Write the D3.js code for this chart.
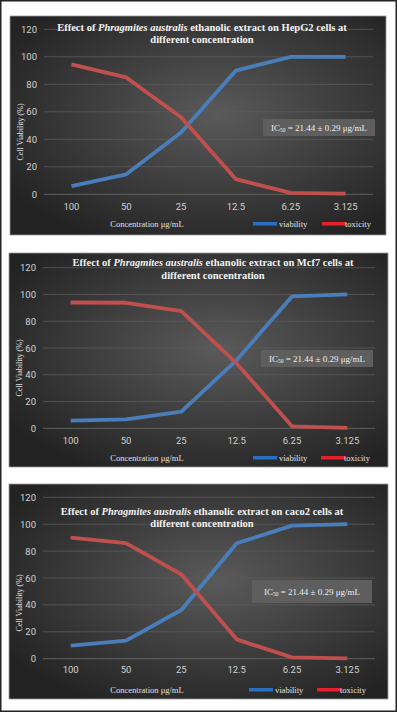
<!DOCTYPE html>
<html>
<head>
<meta charset="utf-8">
<script src="https://cdn.jsdelivr.net/npm/d3@7"></script>
<style>
  body { margin: 0; background: #fff; }
  svg { display: block; }
</style>
</head>
<body>
<script>
// data
const categories = ["100", "50", "25", "12.5", "6.25", "3.125"]
const yTicks = [0, 20, 40, 60, 80, 100, 120]
const cellLines = ["HepG2", "Mcf7", "caco2"]
const hepg2Viability = [6, 14.5, 45, 90, 100, 100]
const hepg2Toxicity = [94.5, 85, 56, 11, 1, 0.5]
const mcf7Viability = [5.7, 6.7, 12.4, 51, 98.5, 100]
const mcf7Toxicity = [94, 93.8, 87.5, 48.5, 1.5, 0.3]
const caco2Viability = [9.7, 13.4, 36.2, 85.8, 98.9, 100]
const caco2Toxicity = [90, 86, 62.7, 14.4, 1, 0.2]
const seriesNames = ["viability", "toxicity"]
const icLabel = " = 21.44 ± 0.29 μg/mL"

const W = 397, H = 712
const lineColors = ["#4a7ebb", "#c0504d"]
const swatchColors = ["#2a70c2", "#e8202a"]
const serif = "'Liberation Serif', 'Times New Roman', serif"
const sans = "'Liberation Sans Narrow', 'Roboto', 'Liberation Sans', sans-serif"

// layout of each panel (pixel boxes)
const panels = [
    { line: cellLines[0], v: hepg2Viability, t: hepg2Toxicity,
      box: [10, 16, 386, 235], plot: [44, 373, 194.3, 29.3],
      title: [202, 30.5, 42.5], tickY: 212, footY: 227, ycap: 132,
      ic: [263, 119, 112, 17], leg: [253, 322] },
    { line: cellLines[1], v: mcf7Viability, t: mcf7Toxicity,
      box: [9, 253, 388, 467], plot: [43, 375, 428.3, 267.7],
      title: [213, 266, 278.5], tickY: 446, footY: 461, ycap: 368,
      ic: [261, 350, 112, 17], leg: [253, 321] },
    { line: cellLines[2], v: caco2Viability, t: caco2Toxicity,
      box: [9, 484, 388, 699], plot: [43, 375, 658.7, 497.3],
      title: [202, 515, 526.5], tickY: 675.5, footY: 693, ycap: 603,
      ic: [252, 580, 120, 23], leg: [249, 317] }
]

const svg = d3.select("body").append("svg")
    .attr("width", W)
    .attr("height", H)

svg.append("rect")
    .attr("x", 0.75).attr("y", 0.75)
    .attr("width", W - 1.5).attr("height", H - 1.5)
    .attr("fill", "#fff")
    .attr("stroke", "#222")
    .attr("stroke-width", 1.5)

const defs = svg.append("defs")
const grad = defs.append("radialGradient")
    .attr("id", "bg")
    .attr("cx", "55%").attr("cy", "45%").attr("r", "65%")
grad.append("stop").attr("offset", "0%").attr("stop-color", "#5a5a5a")
grad.append("stop").attr("offset", "100%").attr("stop-color", "#232323")

panels.forEach(p => {
    let [bx0, by0, bx1, by1] = p.box
    let g = svg.append("g")

    g.append("rect")
        .attr("x", bx0).attr("y", by0)
        .attr("width", bx1 - bx0).attr("height", by1 - by0)
        .attr("fill", "url(#bg)")
        .attr("stroke", "#9a9a9a")
        .attr("stroke-width", 0.8)

    let x = d3.scaleBand()
        .domain(categories)
        .range([p.plot[0], p.plot[1]])
    let y = d3.scaleLinear()
        .domain([0, 120])
        .range([p.plot[2], p.plot[3]])

    // grid
    g.selectAll(".grid")
        .data(yTicks)
        .join("line")
        .attr("x1", p.plot[0]).attr("x2", p.plot[1])
        .attr("y1", d => y(d)).attr("y2", d => y(d))
        .attr("stroke", d => d === 0 ? "#6e6e6e" : "#5c5c5c")
        .attr("stroke-width", 0.8)

    let yAxis = g.append("g")
        .attr("transform", `translate(${p.plot[0] - 7},0)`)
        .call(d3.axisLeft(y).tickValues(yTicks).tickSize(0).tickPadding(0))
    yAxis.select(".domain").remove()
    yAxis.selectAll("text")
        .attr("fill", "#d0d0d0")
        .style("font-family", sans)
        .style("font-size", "9.5px")

    let xAxis = g.append("g")
        .attr("transform", `translate(0,${p.tickY - 9})`)
        .call(d3.axisBottom(x).tickSize(0).tickPadding(0))
    xAxis.select(".domain").remove()
    xAxis.selectAll("text")
        .attr("fill", "#d0d0d0")
        .style("font-family", sans)
        .style("font-size", "9.5px")

    // series lines
    let line = d3.line()
        .x((d, i) => x(categories[i]) + x.bandwidth() / 2)
        .y(d => y(d))
    ;[p.v, p.t].forEach((vals, k) => {
        g.append("path")
            .datum(vals)
            .attr("d", line)
            .attr("fill", "none")
            .attr("stroke", lineColors[k])
            .attr("stroke-width", 3.8)
            .attr("stroke-linejoin", "round")
    })

    // title
    let title = g.append("text")
        .attr("text-anchor", "middle")
        .attr("fill", "#f2f2f2")
        .style("font-family", serif)
        .style("font-weight", "bold")
        .style("font-size", "10.5px")
    let l1 = title.append("tspan").attr("x", p.title[0]).attr("y", p.title[1])
    l1.append("tspan").text("Effect of ")
    l1.append("tspan").style("font-style", "italic").text("Phragmites australis")
    l1.append("tspan").text(` ethanolic extract on ${p.line} cells at`)
    title.append("tspan")
        .attr("x", p.title[0]).attr("y", p.title[2])
        .text("different concentration")

    // y caption
    g.append("text")
        .attr("transform", `translate(${bx0 + 13},${p.ycap}) rotate(-90)`)
        .attr("text-anchor", "middle")
        .attr("fill", "#e0e0e0")
        .style("font-family", serif)
        .style("font-size", "8px")
        .text("Cell Viability (%)")

    // x caption
    g.append("text")
        .attr("x", 147).attr("y", p.footY)
        .attr("text-anchor", "middle")
        .attr("fill", "#e0e0e0")
        .style("font-family", serif)
        .style("font-size", "8.5px")
        .text("Concentration  μg/mL")

    // legend
    seriesNames.forEach((name, k) => {
        let lx = p.leg[k]
        g.append("rect")
            .attr("x", lx).attr("y", p.footY - 5)
            .attr("width", 24).attr("height", 3.5)
            .attr("fill", swatchColors[k])
        g.append("text")
            .attr("x", lx + (k ? 23 : 26)).attr("y", p.footY)
            .attr("fill", "#e0e0e0")
            .style("font-family", serif)
            .style("font-size", "8.5px")
            .text(name)
    })

    // IC50 box
    let [ix, iy, iw, ih] = p.ic
    g.append("rect")
        .attr("x", ix).attr("y", iy)
        .attr("width", iw).attr("height", ih)
        .attr("fill", "#5e5e5e")
    let ic = g.append("text")
        .attr("x", ix + iw / 2).attr("y", iy + ih / 2 + 3)
        .attr("text-anchor", "middle")
        .attr("fill", "#eeeeee")
        .style("font-family", serif)
        .style("font-size", "9px")
    ic.append("tspan").text("IC")
    ic.append("tspan").attr("dy", 1.5).style("font-size", "5.5px").text("50")
    ic.append("tspan").attr("dy", -1.5).text(icLabel)
})
</script>
</body>
</html>
